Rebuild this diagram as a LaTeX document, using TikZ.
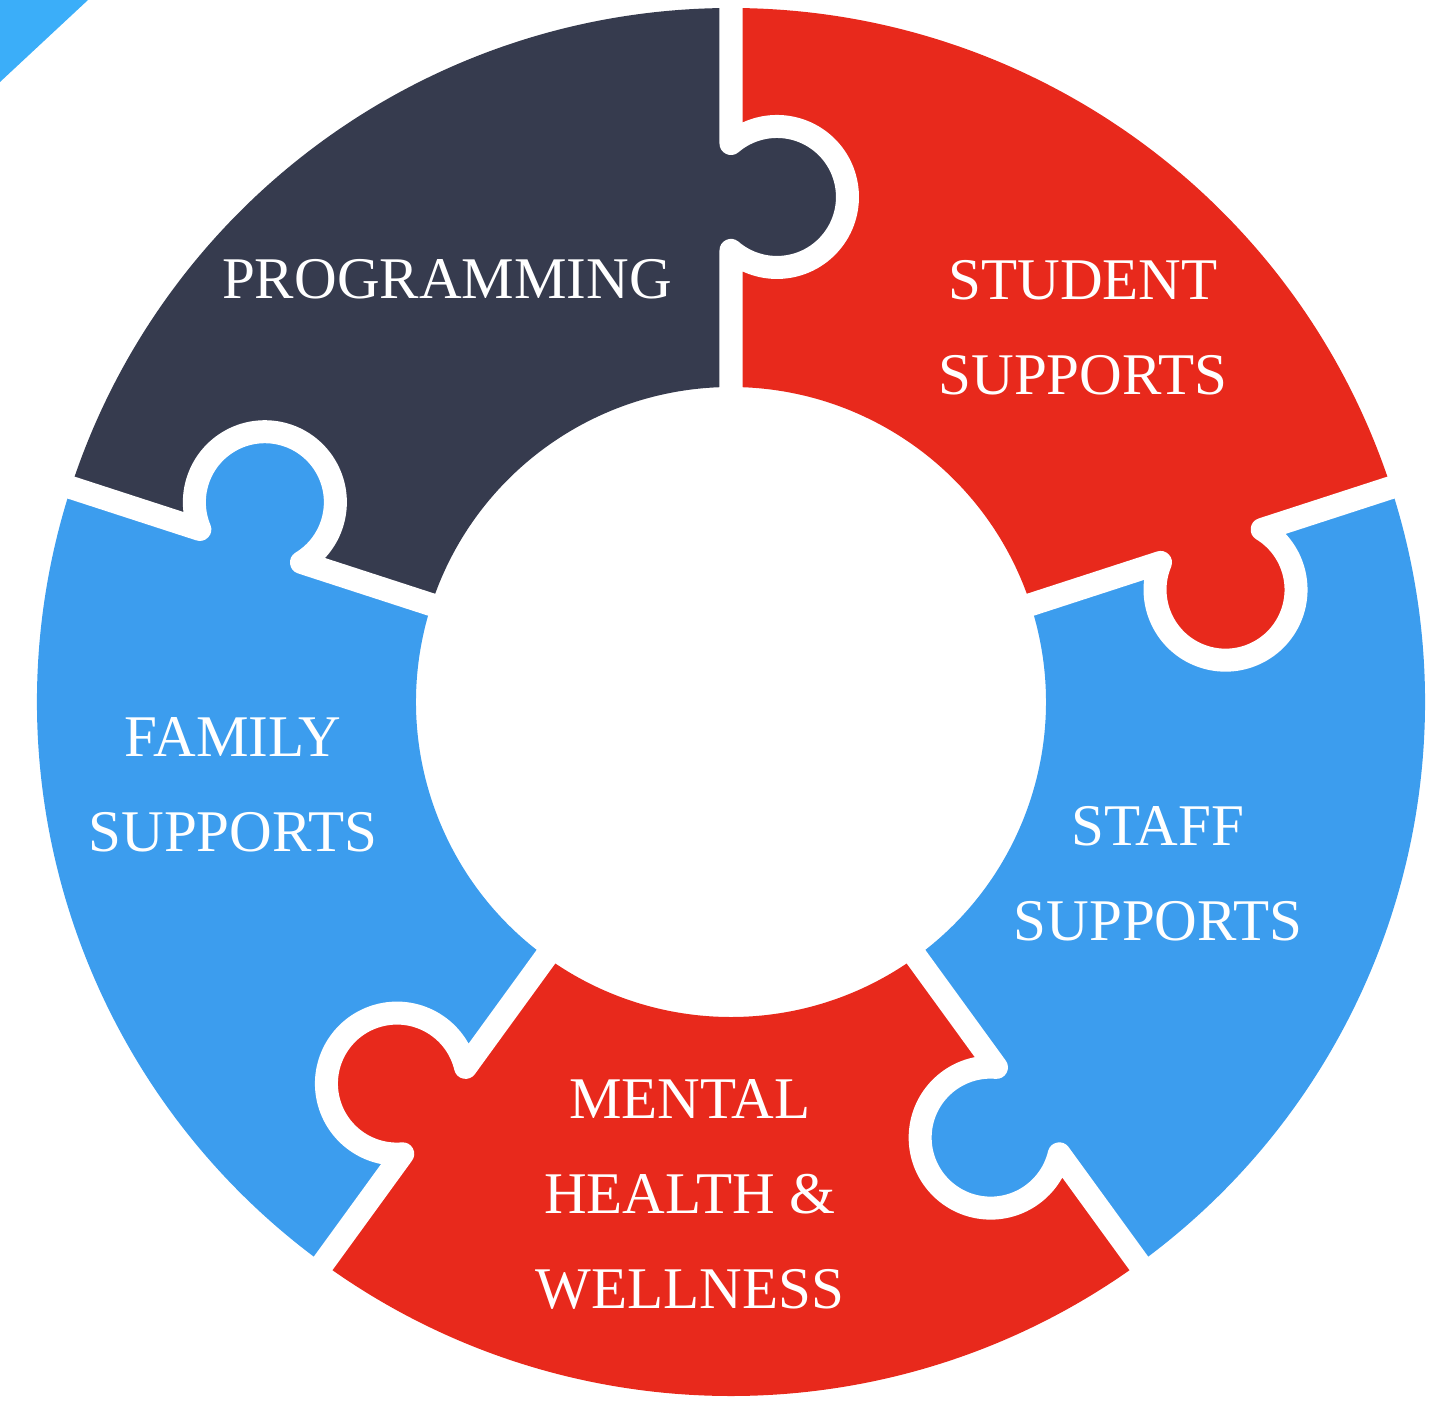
\documentclass[tikz,border=0pt]{standalone}
\usepackage{fontspec}
\setmainfont{Liberation Serif}
\definecolor{navy}{HTML}{363B4E}
\definecolor{puzred}{HTML}{E8291C}
\definecolor{puzblue}{HTML}{3C9DEE}
\definecolor{cornerblue}{HTML}{3BAEF9}
\tikzset{cut/.style={draw=white,line width=0.23cm,line join=round}}
\tikzset{piecetext/.style={text=white,align=center,inner sep=0pt,font=\fontsize{16.8}{27}\selectfont}}

\begin{document}
\begin{tikzpicture}[x=0.01cm,y=0.01cm]
	\useasboundingbox (-731,-703) rectangle (711,702);
	\fill[cornerblue] (-731,702) -- (-643,702) -- (-731,620) -- cycle;
	\fill[puzred] (18:315) -- (18:694) arc[start angle=18,end angle=90,radius=694] -- (90:315) arc[start angle=90,end angle=18,radius=315] -- cycle;
	\fill[navy] (90:315) -- (90:694) arc[start angle=90,end angle=162,radius=694] -- (162:315) arc[start angle=162,end angle=90,radius=315] -- cycle;
	\fill[puzblue] (162:315) -- (162:694) arc[start angle=162,end angle=234,radius=694] -- (234:315) arc[start angle=234,end angle=162,radius=315] -- cycle;
	\fill[puzred] (234:315) -- (234:694) arc[start angle=234,end angle=306,radius=694] -- (306:315) arc[start angle=306,end angle=234,radius=315] -- cycle;
	\fill[puzblue] (306:315) -- (306:694) arc[start angle=306,end angle=378,radius=694] -- (378:315) arc[start angle=378,end angle=306,radius=315] -- cycle;
	\fill[puzred,rotate=18] (505,-46) circle[radius=70.5];
	\fill[navy,rotate=90] (505,-46) circle[radius=70.5];
	\fill[puzblue,rotate=162] (505,-46) circle[radius=70.5];
	\fill[puzred,rotate=234] (505,-46) circle[radius=70.5];
	\fill[puzblue,rotate=306] (505,-46) circle[radius=70.5];
	\draw[cut,rotate=18] (290,0) -- (451.6,0) arc[start angle=139.3,end angle=400.7,radius=70.5] -- (720,0);
	\draw[cut,rotate=90] (290,0) -- (451.6,0) arc[start angle=139.3,end angle=400.7,radius=70.5] -- (720,0);
	\draw[cut,rotate=162] (290,0) -- (451.6,0) arc[start angle=139.3,end angle=400.7,radius=70.5] -- (720,0);
	\draw[cut,rotate=234] (290,0) -- (451.6,0) arc[start angle=139.3,end angle=400.7,radius=70.5] -- (720,0);
	\draw[cut,rotate=306] (290,0) -- (451.6,0) arc[start angle=139.3,end angle=400.7,radius=70.5] -- (720,0);
	\node[piecetext] (prog) at (-284,423) {PROGRAMMING};
	\node[piecetext] (student) at (352,374) {STUDENT\\SUPPORTS};
	\node[piecetext] (family) at (-498,-83) {FAMILY\\SUPPORTS};
	\node[piecetext] (staff) at (427,-172) {STAFF\\SUPPORTS};
	\node[piecetext] (mental) at (-41,-492) {MENTAL\\HEALTH \&\\WELLNESS};
\end{tikzpicture}
\end{document}
